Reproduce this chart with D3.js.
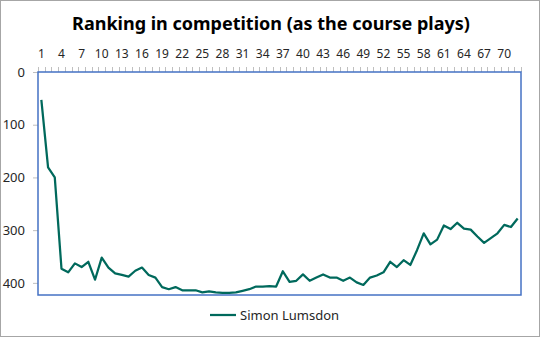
<!DOCTYPE html>
<html>
<head>
<meta charset="utf-8">
<script src="https://cdn.jsdelivr.net/npm/d3@7"></script>
<style>
  html, body { margin: 0; padding: 0; background: #fff; }
  svg { display: block; font-family: "Noto Sans", "Open Sans", sans-serif; }
</style>
</head>
<body>
<svg id="chart" width="540" height="337"></svg>
<script>
// Hole-by-hole ranking over four rounds (72 holes)
const holes = d3.range(1, 73);
const ranking = [
  53, 181, 200, 373, 380, 363, 370, 360, 394, 352,
  371, 382, 385, 388, 377, 371, 385, 390, 408, 412,
  408, 414, 414, 414, 418, 416, 418, 419, 419, 418,
  415, 412, 407, 407, 406, 407, 378, 398, 396, 384,
  396, 390, 384, 390, 390, 396, 390, 399, 404, 390,
  386, 380, 360, 370, 357, 366, 338, 306, 327, 318,
  291, 298, 286, 297, 299, 312, 324, 315, 306, 290,
  294, 278
];
const xTickLabels = holes.filter(h => (h - 1) % 3 === 0);
const yTicks = [0, 100, 200, 300, 400];
const yMax = 423;
const seriesName = "Simon Lumsdon";
const titleText = "Ranking in competition (as the course plays)";

const svg = d3.select("#chart");
const W = 540, H = 337;
const plot = { left: 38, right: 521, top: 72, bottom: 295 };

// outer frame
svg.append("rect")
  .attr("x", 0.5).attr("y", 0.5)
  .attr("width", W - 1).attr("height", H - 1)
  .attr("fill", "#fff").attr("stroke", "#a6a6a6");

svg.append("text")
  .attr("x", 271).attr("y", 30)
  .attr("text-anchor", "middle")
  .attr("font-size", 18).attr("font-weight", "bold")
  .attr("fill", "#000")
  .text(titleText);

const x = d3.scaleBand()
  .domain(holes)
  .range([plot.left, plot.right])
  .paddingInner(0).paddingOuter(0);

const y = d3.scaleLinear()
  .domain([0, yMax])
  .range([plot.top, plot.bottom]);

// category axis along the top
const xAxis = d3.axisTop(x)
  .tickValues(xTickLabels)
  .tickSize(0)
  .tickPadding(14);
const gx = svg.append("g")
  .attr("transform", `translate(0,${plot.top})`)
  .call(xAxis);
gx.select(".domain").remove();
gx.selectAll("text").attr("font-size", 12).attr("fill", "#262626")
  .attr("font-family", "\"Noto Sans\", sans-serif");

// tick marks on band boundaries
const bounds = holes.map(h => x(h)).concat([x(holes[holes.length - 1]) + x.bandwidth()]);
svg.append("g").selectAll("line")
  .data(bounds)
  .join("line")
  .attr("x1", d => Math.round(d) + 0.5).attr("x2", d => Math.round(d) + 0.5)
  .attr("y1", plot.top - 5).attr("y2", plot.top)
  .attr("stroke", "#bfbfbf").attr("stroke-width", 1);

// value axis
const yAxis = d3.axisLeft(y)
  .tickValues(yTicks)
  .tickSize(5)
  .tickPadding(8);
const gy = svg.append("g")
  .attr("transform", `translate(${plot.left},0)`)
  .call(yAxis);
gy.select(".domain").remove();
gy.selectAll("line").attr("stroke", "#bfbfbf");
gy.selectAll("text").attr("font-size", 13).attr("fill", "#262626")
  .attr("font-family", "\"Noto Sans\", sans-serif");

// plot area border
svg.append("rect")
  .attr("x", plot.left).attr("y", plot.top)
  .attr("width", plot.right - plot.left)
  .attr("height", plot.bottom - plot.top)
  .attr("fill", "none")
  .attr("stroke", "#4472c4").attr("stroke-width", 1.5);

const line = d3.line()
  .x((d, i) => x(holes[i]) + x.bandwidth() / 2)
  .y(d => y(d));

svg.append("path")
  .datum(ranking)
  .attr("d", line)
  .attr("fill", "none")
  .attr("stroke", "#00695c")
  .attr("stroke-width", 2.25)
  .attr("stroke-linejoin", "round");

// legend
const lg = svg.append("g").attr("transform", "translate(210,315)");
lg.append("line")
  .attr("x1", 0).attr("x2", 26).attr("y1", 0).attr("y2", 0)
  .attr("stroke", "#00695c").attr("stroke-width", 2.25);
lg.append("text")
  .attr("x", 30).attr("y", 4.5)
  .attr("font-size", 13).attr("fill", "#262626")
  .text(seriesName);
</script>
</body>
</html>
